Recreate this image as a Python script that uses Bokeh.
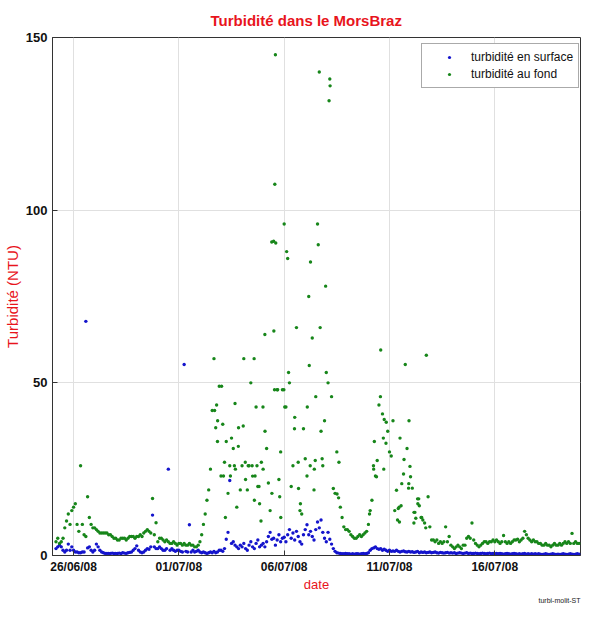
import pandas as pd
from bokeh.plotting import figure
from bokeh.models import (Range1d, FixedTicker, DatetimeTickFormatter, Legend,
                          LegendItem, Title)
from bokeh.embed import file_html
from bokeh.resources import INLINE

# ---------------- data (2-hourly samples, NTU) ----------------
first_day = "2008-06-25"
first_hour = 4          # series start 25/06/08 04:00
step_hours = 2

surface_by_day = [
    [2, 2.5, 3, 2.5, 1.5, 1, 1.5, 3.3, 1.5, 2.5],                  # 25/06 (from 04h)
    [1.5, 1, 1, 0.8, 0.8, 1, 1, 67.8, 2.2, 2.5, 1.5, 1],           # 26/06
    [1.5, 3.3, 2.5, 1.5, 1, 0.8, 0.6, 0.6, 0.6, 0.6, 0.7, 0.6],     # 27/06
    [0.6, 0.6, 0.7, 0.6, 0.8, 0.7, 0.6, 0.8, 0.9, 1, 1.5, 2],       # 28/06
    [2.8, 1.5, 1, 0.8, 1, 1.5, 2, 1.8, 2.5, 11.7, 2.5, 2],          # 29/06
    [2, 2.5, 2, 1.5, 1.5, 2, 25, 1.5, 2, 1.5, 1.2, 1.5],            # 30/06
    [1.5, 1.2, 1, 55.3, 1.2, 1, 8.9, 1, 1.5, 1, 1.2, 1.5],          # 01/07
    [1, 0.8, 1, 0.8, 0.6, 0.8, 1, 0.8, 1.2, 0.8, 1, 1.5],           # 02/07
    [1.5, 1.2, 2, 4.7, 6.7, 21.7, 3.5, 4, 3, 2.5, 2, 3],            # 03/07
    [2.5, 3.5, 2, 1.5, 3, 4, 2.5, 2, 3.5, 4.5, 2.5, 3],             # 04/07
    [3.5, 2.5, 4, 5.5, 6.7, 4.7, 5, 3, 4.5, 6, 4, 5],               # 05/07
    [5.3, 4, 6, 7.5, 5, 6.5, 4.5, 7, 5.5, 4, 3.3, 6],               # 06/07
    [7.5, 8.9, 6, 7, 5.5, 4.5, 7.5, 9.7, 8, 10.3, 6.7, 5],          # 07/07
    [4, 6.7, 4.7, 3.3, 2, 1.2, 0.8, 0.7, 0.6, 0.5, 0.5, 0.6],       # 08/07
    [0.5, 0.5, 0.4, 0.5, 0.4, 0.5, 0.5, 0.4, 0.5, 0.6, 0.5, 0.6],   # 09/07
    [0.8, 1.5, 2, 2.2, 2.5, 2, 1.8, 2, 1.5, 1.8, 1.5, 1.2],         # 10/07
    [1.5, 1.2, 1.3, 1.2, 1.5, 1.2, 1, 1.2, 1.3, 1.1, 1, 1.2],       # 11/07
    [1, 1.1, 0.9, 1, 1.2, 0.8, 1, 0.9, 1, 0.8, 0.9, 1],             # 12/07
    [0.8, 0.9, 1, 0.8, 0.7, 0.9, 0.8, 0.7, 0.8, 0.9, 0.7, 0.8],     # 13/07
    [0.7, 0.8, 0.6, 0.7, 0.8, 0.7, 0.6, 0.7, 0.8, 0.6, 0.7, 0.6],   # 14/07
    [0.6, 0.7, 0.6, 0.5, 0.6, 0.7, 0.6, 0.5, 0.6, 0.7, 0.5, 0.6],   # 15/07
    [0.5, 0.6, 0.5, 0.6, 0.5, 0.4, 0.5, 0.6, 0.5, 0.4, 0.5, 0.6],   # 16/07
    [0.5, 0.4, 0.5, 0.4, 0.5, 0.6, 0.4, 0.5, 0.4, 0.5, 0.4, 0.5],   # 17/07
    [0.4, 0.5, 0.4, 0.3, 0.4, 0.5, 0.4, 0.3, 0.4, 0.5, 0.4, 0.3],   # 18/07
    [0.4, 0.3, 0.4, 0.5, 0.4, 0.3, 0.4, 0.5, 0.4, 0.3, 0.4, 0.5],   # 19/07
    [0.4],                                                          # 20/07 00h
]

bottom_by_day = [
    [4, 5, 3.5, 4, 5, 8, 10, 12, 9, 13],                            # 25/06 (from 04h)
    [14, 15, 9, 7, 26, 9, 6, 5.5, 17, 11, 9, 8],                    # 26/06
    [8, 7.5, 7, 6.5, 6.5, 6.5, 6.5, 6.5, 6, 6, 5.5, 5],             # 27/06
    [5, 4.5, 4.5, 5, 5, 5, 4.5, 5, 5.5, 5.5, 5.5, 5],               # 28/06
    [5.5, 5.5, 6, 5.5, 6.5, 7, 7.5, 7, 6.5, 16.5, 6, 9.5],          # 29/06
    [4, 5, 5, 4.5, 4, 4.5, 4, 3.5, 3.5, 4, 3.5, 3],                 # 30/06
    [3.5, 3.5, 3, 3.5, 3, 3, 3.5, 3, 3, 2.5, 2.5, 3],               # 01/07
    [4, 6, 9, 12, 16, 19, 25, 42, 57, 37, 33, 49],                  # 02/07
    [23, 38, 27, 33, 18, 26, 34, 31, 44, 14, 37, 19],               # 03/07
    [26, 57, 22, 19, 26, 50, 23, 16, 43, 20, 15, 27],               # 04/07
    [25, 64, 31, 21, 13, 18, 91, 145, 48, 22, 30, 48],              # 05/07
    [96, 43, 86, 50, 20, 26, 40, 66, 27, 13, 12, 36.7],             # 06/07
    [28, 23, 75, 85, 63, 19, 46, 96, 140, 36, 26, 39],              # 07/07
    [53, 50, 138, 46, 19.4, 18, 30, 16.7, 14, 11, 8.3, 7.5],        # 08/07
    [7.5, 7, 6, 5.5, 5, 5, 5.5, 6, 5.5, 6, 6.5, 7],                 # 09/07
    [9, 13, 16, 25, 23, 27.5, 43.6, 59.5, 41, 39.4, 32.5, 36],      # 10/07
    [30, 28.8, 39, 13, 18.9, 13.6, 34, 20.8, 23.6, 55.3, 31, 20.8], # 11/07
    [22.8, 19.5, 12.5, 10.8, 16.4, 14.4, 11, 10.3, 9.4, 58, 17, 8.3],  # 12/07
    [4.5, 4.5, 4, 4.5, 3.5, 4, 3.5, 4, 8.3, 4, 5.5, 3],             # 13/07
    [2.5, 2, 2.5, 3, 2.5, 2, 3, 3, 5, 5.5, 5, 9.4],                 # 14/07
    [4.5, 3.5, 3, 2.5, 3, 3.5, 4, 4, 3.5, 4, 4, 4.5],               # 15/07
    [4, 4.5, 4, 3.5, 4, 5.8, 4, 3.5, 4, 3.5, 4, 4.5],               # 16/07
    [4.5, 4.7, 4, 4.5, 5, 7, 6, 5, 4.5, 4, 4.5, 4],                 # 17/07
    [4, 3.5, 3.5, 3, 3, 3.5, 3, 3, 2.5, 3, 3.5, 3],                 # 18/07
    [3, 3.5, 3, 3.5, 4, 3.5, 4, 3.5, 6.4, 3.5, 4, 3.5],             # 19/07
    [3.5],                                                          # 20/07 00h
]

# additional (irregular) bottom readings during the turbid episodes
bottom_extra_time = [
    "2008-07-02 16:45", "2008-07-02 19:00", "2008-07-02 20:10", "2008-07-03 00:40",
    "2008-07-03 02:50", "2008-07-03 05:00", "2008-07-03 10:45", "2008-07-03 15:15",
    "2008-07-03 16:25", "2008-07-03 19:45", "2008-07-04 01:20", "2008-07-04 03:40",
    "2008-07-04 07:00", "2008-07-04 11:30", "2008-07-04 13:45", "2008-07-04 14:50",
    "2008-07-04 17:00", "2008-07-04 19:20", "2008-07-04 21:35", "2008-07-04 23:50",
    "2008-07-05 02:10", "2008-07-05 09:50", "2008-07-05 12:15", "2008-07-05 13:00",
    "2008-07-05 13:20", "2008-07-05 14:25", "2008-07-05 16:35", "2008-07-05 18:55",
    "2008-07-05 20:10", "2008-07-05 23:40", "2008-07-06 00:40", "2008-07-06 02:50",
    "2008-07-06 05:00", "2008-07-06 11:45", "2008-07-06 16:20", "2008-07-06 18:30",
    "2008-07-07 02:20", "2008-07-07 04:35", "2008-07-07 05:40", "2008-07-07 10:20",
    "2008-07-07 11:25", "2008-07-07 14:50", "2008-07-07 17:00", "2008-07-07 19:15",
    "2008-07-07 23:15", "2008-07-08 03:10", "2008-07-08 04:20", "2008-07-08 12:15",
    "2008-07-08 14:25", "2008-07-10 01:15", "2008-07-10 05:45", "2008-07-10 06:45",
    "2008-07-10 09:10", "2008-07-10 13:40", "2008-07-10 17:00", "2008-07-10 17:30",
    "2008-07-10 20:20", "2008-07-11 09:10", "2008-07-11 11:00", "2008-07-11 11:20",
    "2008-07-11 13:15", "2008-07-11 16:35", "2008-07-11 21:45", "2008-07-11 22:15",
    "2008-07-11 23:20", "2008-07-12 03:50", "2008-07-12 05:00", "2008-07-12 08:20",
    "2008-07-12 09:20", "2008-07-12 12:45", "2008-07-12 17:20",
]
bottom_extra_value = [
    42, 43.6, 39, 49,
    23, 11, 23, 26,
    25, 31.6, 37.5, 27,
    26, 26, 57, 23,
    26, 20, 10, 43,
    36, 90.8, 65, 48,
    107.5, 90.5, 48, 17,
    11, 48, 43, 88,
    53, 36.7, 19.4, 15,
    43, 55, 26, 25,
    27.5, 90, 66, 28,
    78, 131.7, 136, 17.8,
    27, 12, 26, 33,
    22.8, 46, 34, 25,
    38.6, 10.3, 14, 9.7,
    14.4, 27.8, 19.5, 39,
    25.8, 9.4, 12.5, 15,
    16.4, 11, 8,
]

x_tick_dates = ["2008-06-26", "2008-07-01", "2008-07-06", "2008-07-11", "2008-07-16"]
y_ticks = [0, 50, 100, 150]
x_start, x_end = "2008-06-25 00:00", "2008-07-20 01:40"
y_start, y_end = 0, 150

series_labels = ["turbidité en surface", "turbidité au fond"]
title_text = "Turbidité dans le MorsBraz"
footnote_text = "turbi-molit-ST"


def build_times(values_by_day):
    out = []
    t0 = pd.Timestamp(first_day) + pd.Timedelta(hours=first_hour)
    k = 0
    for day in values_by_day:
        for _ in day:
            out.append(t0 + pd.Timedelta(hours=step_hours * k))
            k += 1
    return out


def flat(values_by_day):
    return [v for day in values_by_day for v in day]


def ms(t):
    return (pd.Timestamp(t) - pd.Timestamp("1970-01-01")) / pd.Timedelta(milliseconds=1)


surf_t, surf_v = build_times(surface_by_day), flat(surface_by_day)
bot_t = build_times(bottom_by_day) + [pd.Timestamp(t) for t in bottom_extra_time]
bot_v = flat(bottom_by_day) + bottom_extra_value

FONT = "Liberation Sans"
RED = "#e8141c"
BLUE = "#1414cc"
GREEN = "#17861a"
AXC = "#333333"

W, H = 581, 603
B_LEFT, B_RIGHT, B_TOP, B_BOTTOM = 52, 1, 37, 48

p = figure(width=W, height=H, x_axis_type="datetime",
           output_backend="svg", toolbar_location=None,
           x_range=Range1d(ms(x_start), ms(x_end)),
           y_range=Range1d(y_start, y_end),
           min_border_left=B_LEFT, min_border_right=B_RIGHT,
           min_border_top=B_TOP, min_border_bottom=B_BOTTOM)

p.background_fill_color = "white"
p.border_fill_color = "white"
p.outline_line_color = AXC
p.outline_line_width = 1

p.title.text = title_text
p.title.text_color = RED
p.title.text_font = FONT
p.title.text_font_style = "bold"
p.title.text_font_size = "15px"
p.title.align = "left"
p.title.offset = 158
p.title.standoff = 18

# axes
p.xaxis.ticker = FixedTicker(ticks=[ms(d) for d in x_tick_dates])
p.xaxis.formatter = DatetimeTickFormatter(days="%d/%m/%y", months="%d/%m/%y",
                                          hours="%d/%m/%y")
p.yaxis.ticker = FixedTicker(ticks=y_ticks)
for ax in (p.xaxis[0], p.yaxis[0]):
    ax.axis_line_color = AXC
    ax.major_tick_line_color = AXC
    ax.major_tick_in = 5
    ax.major_tick_out = 0
    ax.minor_tick_line_color = None
    ax.major_label_text_font = FONT
    ax.major_label_text_font_size = "12px"
    ax.major_label_text_font_style = "bold"
    ax.major_label_text_color = "#111111"
    ax.axis_label_text_font = FONT
    ax.axis_label_text_font_style = "normal"
    ax.axis_label_text_color = RED
p.xaxis.axis_label = "date"
p.yaxis.axis_label = "Turbidité (NTU)"
p.xaxis.axis_label_text_font_size = "13px"
p.yaxis.axis_label_text_font_size = "15px"
p.yaxis.major_label_text_font_size = "13px"
p.xaxis.major_label_standoff = 4
p.yaxis.major_label_standoff = 5
p.xaxis.axis_label_standoff = 0
p.yaxis.axis_label_standoff = 2

p.grid.grid_line_color = "#e0e0e0"
p.grid.grid_line_width = 1

r_surf = p.scatter(surf_t, surf_v, size=3.4, marker="circle",
                   fill_color=BLUE, line_color=None)
r_bot = p.scatter(bot_t, bot_v, size=3.4, marker="circle",
                  fill_color=GREEN, line_color=None)

frame_h = H - B_TOP - B_BOTTOM
legend = Legend(items=[LegendItem(label=series_labels[0], renderers=[r_surf]),
                       LegendItem(label=series_labels[1], renderers=[r_bot])],
                location=(369, frame_h - 51), orientation="vertical")
legend.border_line_color = "#555555"
legend.border_line_width = 1
legend.background_fill_color = "white"
legend.background_fill_alpha = 1
legend.padding = 5
legend.margin = 0
legend.spacing = 1
legend.glyph_width = 44
legend.glyph_height = 8
legend.label_height = 16
legend.label_standoff = 0
legend.label_text_font = FONT
legend.label_text_font_size = "12px"
legend.label_text_color = "#111111"
p.add_layout(legend)

foot = Title(text=footnote_text, align="right", text_font=FONT,
             text_font_size="7px", text_font_style="normal",
             text_color="#222222", standoff=0)
p.add_layout(foot, "below")

open("out.html", "w").write(file_html(p, INLINE))
